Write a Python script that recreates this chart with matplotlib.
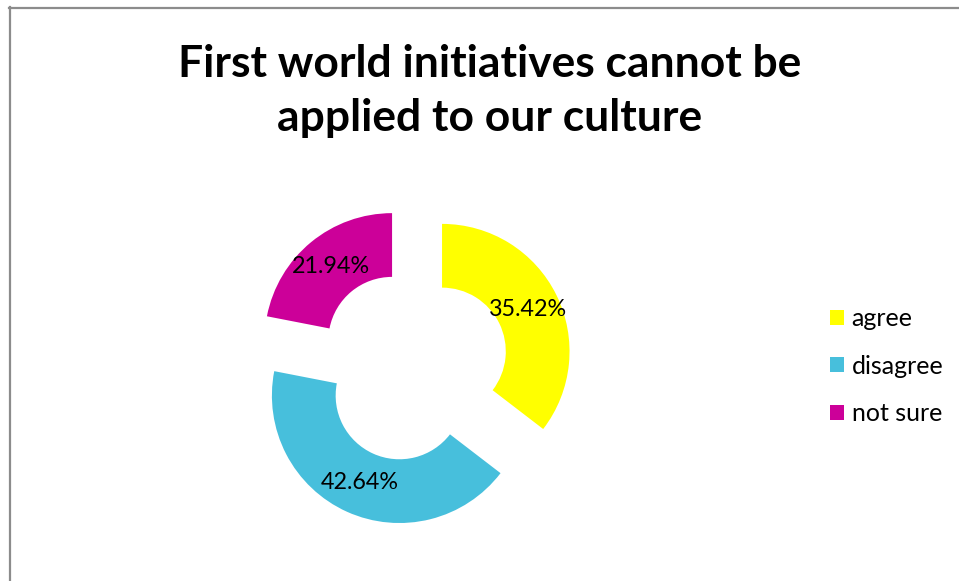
import matplotlib
matplotlib.use("Agg")
import matplotlib.pyplot as plt
from matplotlib.lines import Line2D

# Survey responses
categories = ["agree", "disagree", "not sure"]
shares = [35.42, 42.64, 21.94]
colors = ["#FFFF00", "#47BFDC", "#CC0099"]
title = "First world initiatives cannot be\napplied to our culture"

W, H = 959, 581
DPI = 100
plt.rcParams["font.family"] = ["Lato", "DejaVu Sans"]

fig = plt.figure(figsize=(W / DPI, H / DPI), dpi=DPI)
ax = fig.add_axes([0, 0, 1, 1])

# pixel-based coordinates (origin bottom-left)
cx, cy = 412.8, H - 365.8
R = 127.5
explode_px = 32.6

wedges, texts, autotexts = ax.pie(
    shares,
    colors=colors,
    startangle=90,
    counterclock=False,
    center=(cx, cy),
    radius=R,
    explode=[explode_px] * len(shares),
    autopct=lambda p: f"{p:.2f}%",
    pctdistance=0.75,
    wedgeprops=dict(width=R * 0.5, linewidth=0),
    textprops=dict(fontsize=16.8, color="black"),
)
ax.set_xlim(0, W)
ax.set_ylim(0, H)
ax.set_aspect("auto")
ax.axis("off")

# title, sized so the first line spans the desired width
t = fig.text(490 / W, 1 - 91 / H, title, ha="center", va="center",
             fontsize=34, fontweight="bold", linespacing=1.42)
fig.canvas.draw()
r = fig.canvas.get_renderer()
probe = fig.text(0, 0, title.split("\n")[0], fontsize=34, fontweight="bold")
w = probe.get_window_extent(r).width
probe.remove()
t.set_fontsize(34 * 624 / w)

leg = ax.legend(
    wedges, categories,
    loc="center left",
    bbox_to_anchor=(830 / W, 1 - 366 / H),
    bbox_transform=fig.transFigure,
    frameon=False,
    fontsize=18,
    handlelength=0.56,
    handleheight=0.56,
    handletextpad=0.3,
    labelspacing=0.98,
    borderpad=0,
    borderaxespad=0,
)

# chart area border
border = "#8C8C8C"
fig.add_artist(Line2D([9.5 / W, 9.5 / W], [0, 1 - 7 / H], color=border, lw=1.6,
                      transform=fig.transFigure))
fig.add_artist(Line2D([9 / W, 1], [1 - 7.5 / H, 1 - 7.5 / H], color=border, lw=1.6,
                      transform=fig.transFigure))

fig.savefig("out.png", dpi=DPI, facecolor="white")
